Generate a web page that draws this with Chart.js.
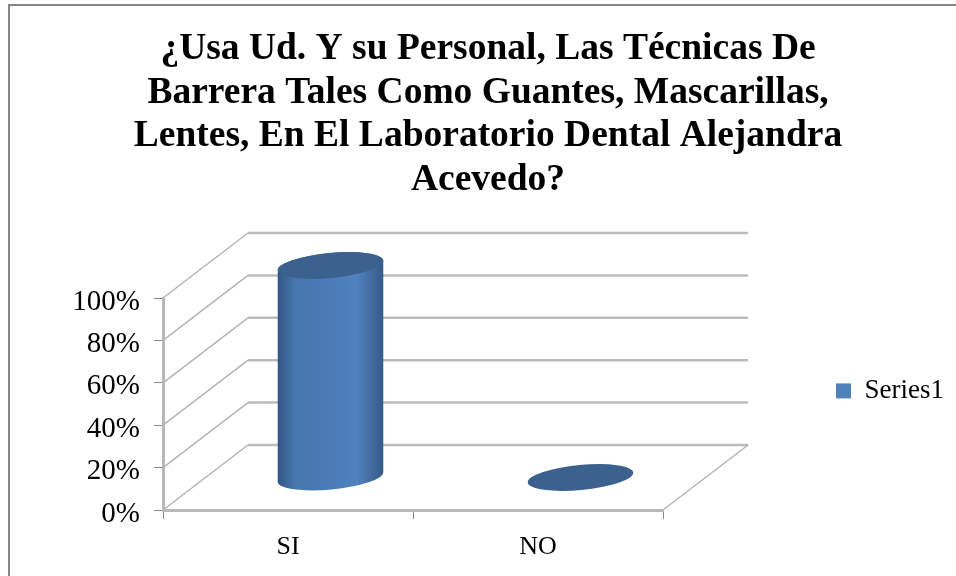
<!DOCTYPE html>
<html>
<head>
<meta charset="utf-8">
<script src="https://cdn.jsdelivr.net/npm/chart.js@4"></script>
<style>
  body { margin: 0; background: #fff; }
  #frame { position: absolute; left: 8px; top: 4px; width: 948px; height: 572px; box-sizing: border-box;
           border-left: 2px solid #868686; border-top: 2px solid #868686; }
  canvas { position: absolute; left: 0; top: 0; }
</style>
</head>
<body>
<div id="frame"></div>
<canvas id="chart" width="956" height="576"></canvas>
<script>
const categories = ['SI', 'NO'];
const seriesName = 'Series1';
const seriesValues = [100, 0];
const titleLines = [
  '¿Usa Ud. Y su Personal, Las Técnicas De',
  'Barrera Tales Como Guantes, Mascarillas,',
  'Lentes, En El Laboratorio Dental Alejandra',
  'Acevedo?'
];

// 3D look: how far the back wall sits from the front plane
const DEPTH_X = 85;
const DEPTH_Y = 65;
const TILT = -5.4 * Math.PI / 180;

const walls = {
  id: 'walls',
  beforeDatasetsDraw(chart) {
    const {ctx, chartArea: a, scales: {y}} = chart;
    ctx.save();
    y.ticks.forEach(t => {
      const p = y.getPixelForValue(t.value);
      ctx.strokeStyle = '#b4b4b4';
      ctx.lineWidth = 1.5;
      ctx.beginPath();
      ctx.moveTo(a.left, p);
      ctx.lineTo(a.left + DEPTH_X, p - DEPTH_Y);
      ctx.stroke();
      ctx.strokeStyle = '#bcbcbc';
      ctx.lineWidth = 2.5;
      ctx.beginPath();
      ctx.moveTo(a.left + DEPTH_X, p - DEPTH_Y);
      ctx.lineTo(a.right + DEPTH_X, p - DEPTH_Y);
      ctx.stroke();
    });
    // floor right edge
    ctx.strokeStyle = '#b4b4b4';
    ctx.lineWidth = 1.5;
    ctx.beginPath();
    ctx.moveTo(a.right, a.bottom);
    ctx.lineTo(a.right + DEPTH_X, a.bottom - DEPTH_Y);
    ctx.stroke();
    ctx.restore();
  },
  beforeDatasetDraw(chart, args) {
    const {ctx} = chart;
    chart.getDatasetMeta(args.index).data.forEach(bar => {
      const cx = bar.x + DEPTH_X / 2;
      const top = bar.y - DEPTH_Y / 2;
      const bottom = bar.base - DEPTH_Y / 2;
      const rx = bar.width / 2 + 0.5;
      const ry = 12.5;
      ctx.save();
      if (bottom - top > 1) {
        const g = ctx.createLinearGradient(cx - rx, 0, cx + rx, 0);
        g.addColorStop(0, '#2f5484');
        g.addColorStop(0.06, '#3a6394');
        g.addColorStop(0.16, '#4676ad');
        g.addColorStop(0.45, '#4a7bb6');
        g.addColorStop(0.75, '#4f81c0');
        g.addColorStop(0.9, '#42699b');
        g.addColorStop(1, '#345a86');
        ctx.fillStyle = g;
        ctx.beginPath();
        ctx.ellipse(cx, bottom, rx, ry, TILT, Math.PI, 0, true);
        ctx.ellipse(cx, top, rx, ry, TILT, 0, Math.PI, true);
        ctx.closePath();
        ctx.fill();
      }
      ctx.fillStyle = '#3b618f';
      ctx.beginPath();
      ctx.ellipse(cx, top, rx, ry, TILT, 0, Math.PI * 2);
      ctx.fill();
      ctx.restore();
    });
    return false;
  }
};

new Chart(document.getElementById('chart'), {
  type: 'bar',
  data: {
    labels: categories,
    datasets: [{
      label: seriesName,
      data: seriesValues,
      backgroundColor: '#4f81bd',
      borderWidth: 0,
      barPercentage: 0.42,
      categoryPercentage: 1
    }]
  },
  options: {
    responsive: false,
    animation: false,
    layout: { padding: { left: 22, right: 2, top: 28, bottom: 0 } },
    plugins: {
      tooltip: { enabled: false },
      title: {
        display: true,
        text: titleLines,
        color: '#000',
        font: { family: '"Liberation Serif"', size: 37.5, weight: 'bold', lineHeight: 1.16 },
        padding: { top: 0, bottom: 96 }
      },
      legend: {
        position: 'right',
        align: 'start',
        onClick: null,
        title: { display: true, text: '', padding: { top: 325, bottom: 0 } },
        labels: {
          boxWidth: 15,
          boxHeight: 15,
          padding: 10,
          color: '#000',
          font: { family: '"Liberation Serif"', size: 27 }
        }
      }
    },
    scales: {
      x: {
        afterFit: s => { s.height = 66; },
        grid: { drawOnChartArea: false, tickLength: 9, color: '#868686', offset: true },
        border: { color: '#b8b8b8', width: 3 },
        ticks: { color: '#000', padding: 13, font: { family: '"Liberation Serif"', size: 26 } }
      },
      y: {
        min: 0,
        max: 100,
        afterFit: s => { s.width = 141; },
        grid: { drawOnChartArea: false, tickLength: 9, color: '#868686' },
        border: { color: '#b8b8b8', width: 3 },
        ticks: {
          stepSize: 20,
          color: '#000',
          padding: 14,
          labelOffset: 4,
          font: { family: '"Liberation Serif"', size: 29 },
          callback: v => v + '%'
        }
      },
      // empty axis, only keeps the gap between the plot and the legend
      gap: {
        type: 'linear',
        position: 'right',
        display: true,
        afterFit: s => { s.width = 163; },
        grid: { display: false },
        border: { display: false },
        ticks: { display: false }
      }
    }
  },
  plugins: [walls]
});
</script>
</body>
</html>
